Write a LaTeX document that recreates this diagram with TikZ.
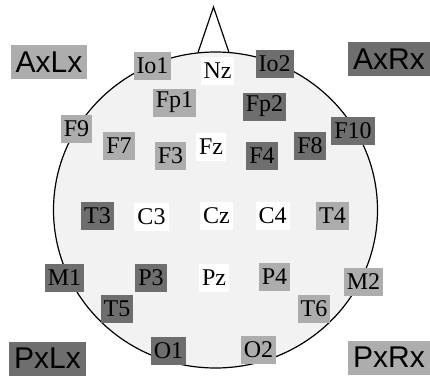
\documentclass[tikz,border=0pt]{standalone}
\usepackage{fontspec}
\setmainfont{Liberation Serif}
\newfontfamily\sidefont{Liberation Sans}
\usepackage{tikz}
\definecolor{EEGHead}{HTML}{F2F2F2}
\definecolor{EEGLight}{HTML}{ADADAD}
\definecolor{EEGDark}{HTML}{6E6E6E}
\definecolor{EEGInk}{HTML}{000000}
\tikzset{
  head/.style={draw=EEGInk,line width=1.2pt,fill=EEGHead},
  nose/.style={draw=EEGInk,line width=1.2pt},
  elec/.style={inner xsep=3pt,inner ysep=0pt,minimum height=28pt,text=EEGInk,
               font=\fontsize{24}{24}\selectfont},
  eleclight/.style={elec,fill=EEGLight},
  elecdark/.style={elec,fill=EEGDark},
  elecwhite/.style={elec,fill=white},
  side/.style={inner xsep=5pt,inner ysep=0pt,minimum height=34pt,text=EEGInk,
               font=\sidefont\fontsize{30}{30}\selectfont},
  sidelight/.style={side,fill=EEGLight},
  sidedark/.style={side,fill=EEGDark},
}
\begin{document}
\begin{tikzpicture}[x=1pt,y=-1pt]
    \useasboundingbox (0,0) rectangle (430,375);
    \draw[head] (215.5,210) ellipse [x radius=162,y radius=158];
    \draw[nose] (198,52.5)--(213.5,7)--(229,52.5);

    \node[sidelight] (axlx) at (49,62) {AxLx};
    \node[sidedark] (axrx) at (389,59) {AxRx};
    \node[sidedark] (pxlx) at (47.5,358.5) {PxLx};
    \node[sidelight] (pxrx) at (389,357.5) {PxRx};

    \node[eleclight] (io1) at (152.5,66) {Io1};
    \node[elecwhite] (nz) at (217.5,70.5) {Nz};
    \node[elecdark] (io2) at (274.5,63.5) {Io2};
    \node[eleclight] (fp1) at (174.5,102.5) {Fp1};
    \node[elecdark] (fp2) at (264.5,106.5) {Fp2};

    \node[eleclight] (f9) at (76.5,129) {F9};
    \node[eleclight] (f7) at (119,145.5) {F7};
    \node[eleclight] (f3) at (170.5,156) {F3};
    \node[elecwhite] (fz) at (211,146.5) {Fz};
    \node[elecdark] (f4) at (262,156) {F4};
    \node[elecdark] (f8) at (310,145.5) {F8};
    \node[elecdark] (f10) at (353,131) {F10};

    \node[elecdark] (t3) at (97.5,216) {T3};
    \node[elecwhite] (c3) at (151.5,216.5) {C3};
    \node[elecwhite] (cz) at (216.5,216) {Cz};
    \node[elecwhite] (c4) at (272.5,216) {C4};
    \node[eleclight] (t4) at (332.5,216) {T4};

    \node[elecdark] (m1) at (64.5,278) {M1};
    \node[elecdark] (p3) at (151,278) {P3};
    \node[elecwhite] (pz) at (214,278) {Pz};
    \node[eleclight] (p4) at (274.5,277) {P4};
    \node[eleclight] (m2) at (363.5,281.5) {M2};

    \node[elecdark] (t5) at (117,309) {T5};
    \node[eleclight] (t6) at (314,309) {T6};
    \node[elecdark] (o1) at (168.5,351) {O1};
    \node[eleclight] (o2) at (258.5,350) {O2};
  \end{tikzpicture}
\end{document}
